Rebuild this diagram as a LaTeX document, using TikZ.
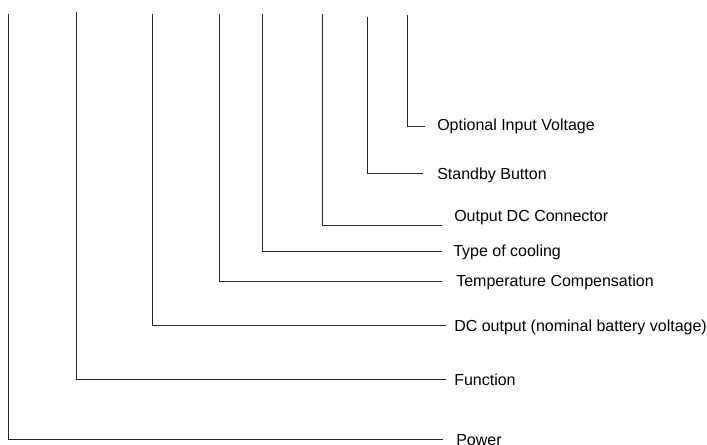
\documentclass[tikz,border=0pt]{standalone}
\usepackage{fontspec}
\setmainfont{Liberation Sans}
\usepackage{tikz}
\usetikzlibrary{positioning}
\tikzset{
  leader/.style={draw=black!85,line width=0.7pt},
  partlabel/.style={anchor=base west,inner sep=0pt,font=\fontsize{12}{14}\selectfont}
}

\begin{document}
\begin{tikzpicture}[x=0.75pt,y=-0.75pt]
  \useasboundingbox (0,0) rectangle (707,445);
  % tops of the leaders
  \coordinate (powertop) at (8,14);
  \coordinate (functop) at (76,12);
  \coordinate (dcouttop) at (152,14);
  \coordinate (temptop) at (219,14);
  \coordinate (cooltop) at (262,14);
  \coordinate (conntop) at (322,14);
  \coordinate (standbytop) at (367,17);
  \coordinate (inputtop) at (407,15);
  % free ends of the leaders
  \coordinate (powerend) at (443,439);
  \coordinate (funcend) at (446,379);
  \coordinate (dcoutend) at (446,325);
  \coordinate (tempend) at (442,281);
  \coordinate (coolend) at (442,251.5);
  \coordinate (connend) at (442,225.7);
  \coordinate (standbyend) at (423,173.3);
  \coordinate (inputend) at (425,126.7);
  % labels
  \node[partlabel] (power) at (456,445.5) {Power};
  \node[partlabel] (func) at (454,385.7) {Function};
  \node[partlabel] (dcout) at (454,332) {DC output (nominal battery voltage)};
  \node[partlabel] (temp) at (456,287) {Temperature Compensation};
  \node[partlabel] (cool) at (453,256.5) {Type of cooling};
  \node[partlabel] (conn) at (454,222) {Output DC Connector};
  \node[partlabel] (standby) at (437,180) {Standby Button};
  \node[partlabel] (input) at (437,131) {Optional Input Voltage};
  % leaders
  \draw[leader] (powertop) |- (powerend);
  \draw[leader] (functop) |- (funcend);
  \draw[leader] (dcouttop) |- (dcoutend);
  \draw[leader] (temptop) |- (tempend);
  \draw[leader] (cooltop) |- (coolend);
  \draw[leader] (conntop) |- (connend);
  \draw[leader] (standbytop) |- (standbyend);
  \draw[leader] (inputtop) |- (inputend);
\end{tikzpicture}
\end{document}
